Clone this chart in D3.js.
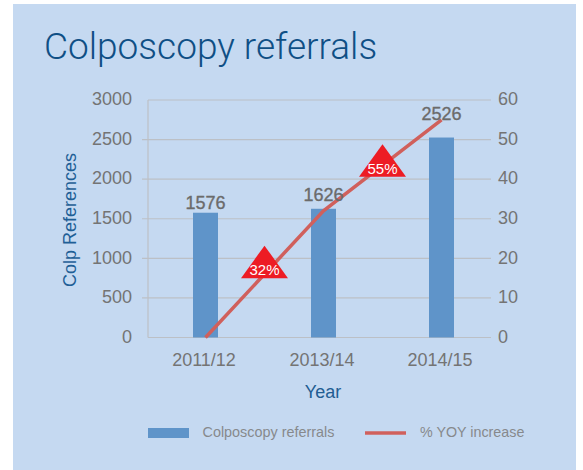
<!DOCTYPE html>
<html><head><meta charset="utf-8"><style>
html,body{margin:0;padding:0;background:#fff}svg{display:block}
text{font-family:"Liberation Sans",Arial,sans-serif}
</style><script src="https://cdn.jsdelivr.net/npm/d3@7"></script></head><body><svg id="c" width="583" height="470"></svg>
<script>
const categories=["2011/12","2013/14","2014/15"];
const referrals=[1576,1626,2526];
const yoy=[0,32,55];
const leftTicks=[0,500,1000,1500,2000,2500,3000];
const rightTicks=[0,10,20,30,40,50,60];
const annotationLabels=["32%","55%"];
const annotationBase=[15,40.6];
const labelLift=[4,8,18];
const svg=d3.select("#c");
svg.append("rect").attr("x",13).attr("y",4).attr("width",563).attr("height",466).attr("fill","#c5d9f1");
const plotL=148,plotR=491,plotTop=100,plotBottom=337.5;
const x=d3.scaleBand().domain(categories).range([146.5,500.5]);
const bw=25;
const yL=d3.scaleLinear().domain([0,3000]).range([plotBottom,plotTop]);
const yR=d3.scaleLinear().domain([0,60]).range([plotBottom,plotTop]);
const cx=c=>x(c)+x.bandwidth()/2;
const grid="#bcc0c6",tickCol="#747474";
svg.append("g").selectAll("line").data(leftTicks).join("line")
 .attr("x1",d=>d===0||d===3000?plotL:142).attr("x2",plotR).attr("y1",d=>yL(d)).attr("y2",d=>yL(d))
 .attr("stroke",grid).attr("stroke-width",1.2);
svg.append("line").attr("x1",plotL).attr("x2",plotL).attr("y1",plotTop).attr("y2",plotBottom).attr("stroke",grid).attr("stroke-width",1.2);
const la=svg.append("g").attr("transform",`translate(${plotL-16},-1)`).call(d3.axisLeft(yL).tickValues(leftTicks).tickFormat(d3.format("d")).tickSize(0).tickPadding(0));
const ra=svg.append("g").attr("transform",`translate(498,-1)`).call(d3.axisRight(yR).tickValues(rightTicks).tickSize(0).tickPadding(0));
const ba=svg.append("g").attr("transform",`translate(-1.5,${plotBottom})`).call(d3.axisBottom(x).tickSize(0).tickPadding(15.7));
[la,ra,ba].forEach(g=>{g.select(".domain").remove();g.selectAll("text").attr("fill",tickCol).style("font-size","18px").style("font-family","'Liberation Sans',Arial,sans-serif")});
svg.append("g").selectAll("rect").data(referrals).join("rect")
 .attr("x",(d,i)=>cx(categories[i])-bw/2).attr("width",bw).attr("y",d=>yL(d)).attr("height",d=>plotBottom-yL(d)).attr("fill","#5f94c9");
svg.append("path").datum(yoy).attr("fill","none").attr("stroke","#d0605c").attr("stroke-width",3.5)
 .attr("d",d3.line().x((d,i)=>cx(categories[i])).y(d=>yR(d)));
svg.append("g").selectAll("text").data(referrals).join("text")
 .attr("x",(d,i)=>cx(categories[i])).attr("y",(d,i)=>yL(d)-labelLift[i]).attr("text-anchor","middle")
 .attr("fill","#6b6b6b").attr("stroke","#6b6b6b").attr("stroke-width",.35).attr("font-size",18).text(d=>d);
const ann=svg.append("g").selectAll("g").data(annotationLabels).join("g")
 .attr("transform",(d,i)=>`translate(${(cx(categories[i])+cx(categories[i+1]))/2},${yR(annotationBase[i])})`);
ann.append("path").attr("d","M-23.5,0L0,-32.5L23.5,0Z").attr("fill","#ed1c24");
ann.append("text").attr("y",-3).attr("text-anchor","middle").attr("fill","#fff").attr("font-size",15).text(d=>d);
svg.append("text").attr("x",44).attr("y",59).attr("fill","#0f4f85").attr("font-size",37).style("font-family","Roboto").style("font-weight",300).text("Colposcopy referrals");
svg.append("text").attr("transform","translate(76,220) rotate(-90)").attr("text-anchor","middle").attr("fill","#1f5f96").attr("font-size",18).text("Colp References");
svg.append("text").attr("x",323).attr("y",398).attr("text-anchor","middle").attr("fill","#225d92").attr("font-size",18).text("Year");
svg.append("rect").attr("x",148).attr("y",428).attr("width",41).attr("height",10).attr("fill","#5f94c9");
svg.append("text").attr("x",202.5).attr("y",437).attr("fill","#87898c").attr("font-size",14.4).text("Colposcopy referrals");
svg.append("line").attr("x1",365).attr("x2",406).attr("y1",433).attr("y2",433).attr("stroke","#d0605c").attr("stroke-width",3.5);
svg.append("text").attr("x",420).attr("y",437).attr("fill","#87898c").attr("font-size",14.3).text("% YOY increase");
</script></body></html>
